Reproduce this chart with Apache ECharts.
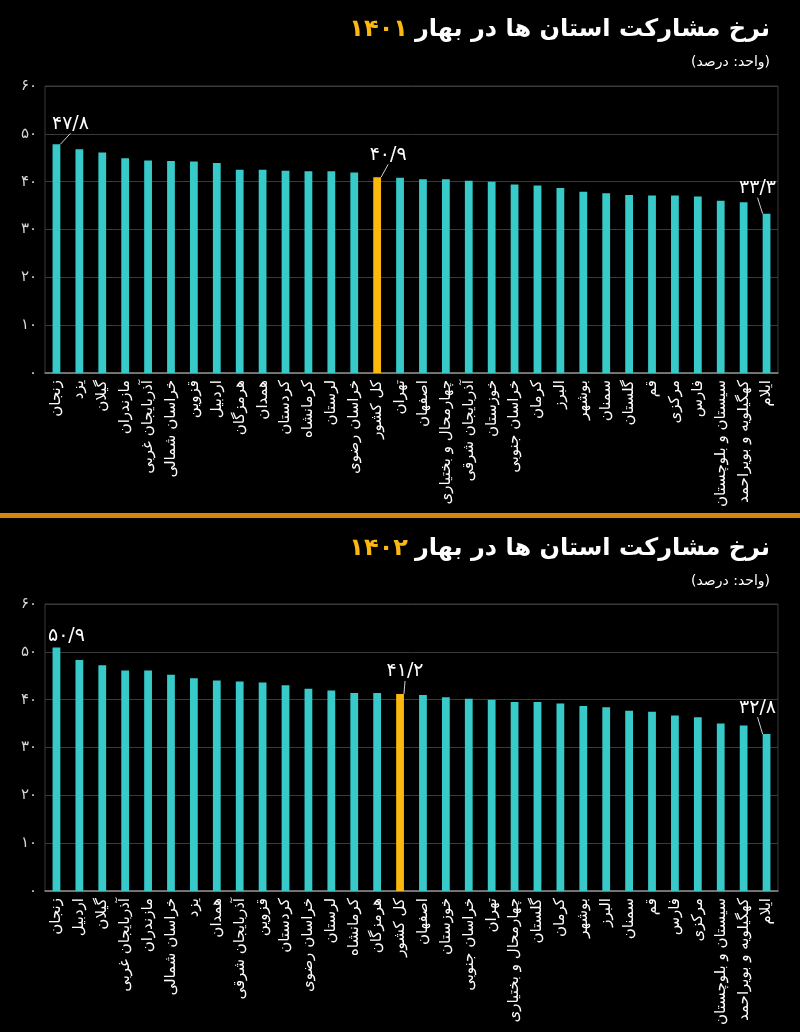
<!DOCTYPE html>
<html><head><meta charset="utf-8">
<script src="https://cdn.jsdelivr.net/npm/echarts@6/dist/echarts.min.js"></script>
<style>html,body{margin:0;padding:0;background:#000}#c{width:800px;height:1032px}</style>
</head><body><div id="c"></div>
<script>
const categories1401 = ['زنجان','یزد','گیلان','مازندران','آذربایجان غربی','خراسان شمالی','قزوین','اردبیل','هرمزگان','همدان','کردستان','کرمانشاه','لرستان','خراسان رضوی','کل کشور','تهران','اصفهان','چهارمحال و بختیاری','آذربایجان شرقی','خوزستان','خراسان جنوبی','کرمان','البرز','بوشهر','سمنان','گلستان','قم','مرکزی','فارس','سیستان و بلوچستان','کهگیلویه و بویراحمد','ایلام'];
const values1401 = [47.8,46.8,46.1,44.9,44.4,44.3,44.2,43.9,42.5,42.5,42.3,42.2,42.2,41.9,40.9,40.8,40.5,40.5,40.2,40.0,39.4,39.2,38.7,37.9,37.6,37.2,37.1,37.1,36.9,36.0,35.7,33.3];
const categories1402 = ['زنجان','اردبیل','گیلان','آذربایجان غربی','مازندران','خراسان شمالی','یزد','همدان','آذربایجان شرقی','قزوین','کردستان','خراسان رضوی','لرستان','کرمانشاه','هرمزگان','کل کشور','اصفهان','خوزستان','خراسان جنوبی','تهران','چهارمحال و بختیاری','گلستان','کرمان','بوشهر','البرز','سمنان','قم','فارس','مرکزی','سیستان و بلوچستان','کهگیلویه و بویراحمد','ایلام'];
const values1402 = [50.9,48.3,47.2,46.1,46.1,45.2,44.5,44.0,43.8,43.6,43.0,42.3,41.9,41.4,41.4,41.2,41.0,40.5,40.2,40.0,39.5,39.5,39.2,38.7,38.4,37.7,37.5,36.7,36.3,35.0,34.6,32.8];
const yTicks = [0,10,20,30,40,50,60];
const totalName = 'کل کشور';
const titleText = 'نرخ مشارکت استان ها در بهار';
const subtitleText = '(واحد: درصد)';

const FA = '۰۱۲۳۴۵۶۷۸۹';
function toFa(v){ return String(v).replace('.', '/').replace(/\d/g, d => FA[d]); }

const TEAL = '#38c9c9', GOLD = '#fbb80f';
const FONT = 'DejaVu Sans';
const TITLE_FONT = 'bold 24px "DejaVu Sans"';

function buildData(cats, vals, firstLine){
  const last = vals.length - 1;
  return vals.map((v,i) => {
    const isTotal = cats[i] === totalName;
    const item = { value: v, itemStyle: { color: isTotal ? GOLD : TEAL } };
    if (i === 0 || isTotal || i === last) item.label = { show: true };
    if (i === 0 && !firstLine) item.labelLine = { show: false };
    return item;
  });
}

function labelShift(cats, vals, shifts){
  const last = vals.length - 1;
  const ti = cats.indexOf(totalName);
  return function(p){
    if (p.dataIndex === 0) return shifts[0];
    if (p.dataIndex === ti) return shifts[1];
    if (p.dataIndex === last) return shifts[2];
    return {};
  };
}

const chart = echarts.init(document.getElementById('c'));

function grid(top){ return { left: 45, right: 22, top: top, height: 287, show: true, borderColor: '#3a3a3a', borderWidth: 1 }; }
function xAxis(idx, cats){
  return { type: 'category', gridIndex: idx, data: cats,
    axisTick: { show: false }, axisLine: { lineStyle: { color: '#8a8a8a', width: 1.5 } },
    axisLabel: { interval: 0, rotate: 90, color: '#ffffff', fontFamily: FONT, fontSize: 15, margin: 7 } };
}
function yAxis(idx){
  return { type: 'value', gridIndex: idx, min: yTicks[0], max: yTicks[yTicks.length-1], interval: 10,
    axisLine: { show: false }, axisTick: { show: false },
    splitLine: { lineStyle: { color: '#3a3a3a', width: 1 } },
    axisLabel: { color: '#d8d8d8', fontFamily: FONT, fontSize: 15, margin: 8, formatter: v => toFa(v) } };
}
function series(idx, cats, vals, shifts, firstLine){
  return { type: 'bar', xAxisIndex: idx, yAxisIndex: idx, barWidth: '34%',
    data: buildData(cats, vals, firstLine),
    label: { show: false, position: 'top', distance: 5, color: '#ffffff', fontFamily: FONT, fontSize: 19, formatter: p => toFa(p.value) },
    labelLine: { show: true, lineStyle: { color: '#d0d0d0', width: 1 } },
    labelLayout: labelShift(cats, vals, shifts) };
}

const ctx = document.createElement('canvas').getContext('2d');
ctx.font = TITLE_FONT;
const titleW = ctx.measureText(titleText).width;

function titleGraphics(y, year){
  return [
    { type: 'text', x: 770, y: y, style: { text: titleText, align: 'right', verticalAlign: 'middle', font: TITLE_FONT, fill: '#ffffff' } },
    { type: 'text', x: 770 - titleW - 7, y: y, style: { text: toFa(year), align: 'right', verticalAlign: 'middle', font: TITLE_FONT, fill: GOLD } },
    { type: 'text', x: 770, y: y + 32, style: { text: subtitleText, align: 'right', verticalAlign: 'middle', font: '14px "DejaVu Sans"', fill: '#ffffff' } }
  ];
}

chart.setOption({
  backgroundColor: '#000000',
  animation: false,
  graphic: [
    { type: 'rect', left: 0, top: 513, shape: { width: 800, height: 5 }, style: { fill: '#d9830f' } },
    ...titleGraphics(30, 1401),
    ...titleGraphics(549, 1402)
  ],
  grid: [ grid(86), grid(604) ],
  xAxis: [ xAxis(0, categories1401), xAxis(1, categories1402) ],
  yAxis: [ yAxis(0), yAxis(1) ],
  series: [
    series(0, categories1401, values1401, [{dx: 14, dy: -6}, {dx: 11, dy: -8}, {dx: -9, dy: -11}], true),
    series(1, categories1402, values1402, [{dx: 10, dy: 3}, {dx: 5, dy: -8}, {dx: -9, dy: -12}], false)
  ]
});
</script></body></html>
